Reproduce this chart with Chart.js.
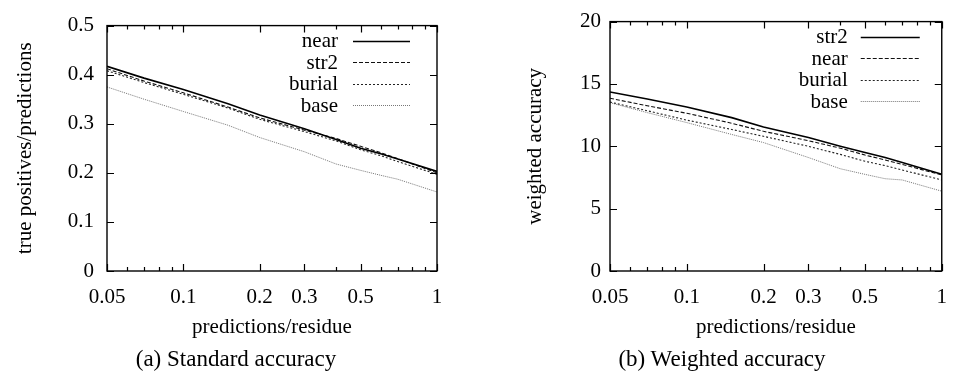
<!DOCTYPE html>
<html>
<head>
<meta charset="utf-8">
<script src="https://cdn.jsdelivr.net/npm/chart.js@4.4.1/dist/chart.umd.min.js"></script>
<style>
  html, body { margin: 0; padding: 0; background: #fff; }
  body { width: 961px; height: 383px; position: relative; overflow: hidden; }
  .pane { position: absolute; top: 0; height: 383px; }
  .cap { position: absolute; font-family: "Liberation Serif", serif; font-size: 23px; color: #000; white-space: nowrap; transform: translateX(-50%); }
</style>
</head>
<body>
<div class="pane" id="p1" style="left:0;width:480px;"><canvas id="c1"></canvas></div>
<div class="pane" id="p2" style="left:480px;width:481px;"><canvas id="c2"></canvas></div>
<div class="cap" style="left:236px;top:346px;">(a) Standard accuracy</div>
<div class="cap" style="left:722px;top:346px;">(b) Weighted accuracy</div>
<script>
// ---- data ----
const xValues = [0.05, 0.07, 0.1, 0.15, 0.2, 0.3, 0.4, 0.5, 0.6, 0.7, 1];
const xTickValues = [0.05, 0.1, 0.2, 0.3, 0.5, 1];
const xTickLabels = ['0.05', '0.1', '0.2', '0.3', '0.5', '1'];
const xMinorTicks = [0.06, 0.07, 0.08, 0.09, 0.4, 0.6, 0.7, 0.8, 0.9];

// (a) standard accuracy
const stdNear   = [0.417, 0.393, 0.370, 0.341, 0.318, 0.290, 0.268, 0.250, 0.239, 0.228, 0.203];
const stdStr2   = [0.412, 0.387, 0.363, 0.334, 0.312, 0.287, 0.270, 0.254, 0.241, 0.229, 0.200];
const stdBurial = [0.408, 0.384, 0.360, 0.332, 0.309, 0.284, 0.265, 0.247, 0.235, 0.223, 0.197];
const stdBase   = [0.375, 0.350, 0.325, 0.297, 0.272, 0.243, 0.218, 0.205, 0.195, 0.187, 0.161];
const stdYTicks = [0, 0.1, 0.2, 0.3, 0.4, 0.5];

// (b) weighted accuracy
const wStr2   = [14.35, 13.80, 13.15, 12.30, 11.55, 10.70, 10.00, 9.50, 9.10, 8.70, 7.75];
const wNear   = [13.85, 13.25, 12.65, 11.85, 11.20, 10.45, 9.85, 9.30, 8.90, 8.55, 7.70];
const wBurial = [13.55, 12.85, 12.10, 11.35, 10.80, 10.00, 9.35, 8.80, 8.45, 8.10, 7.30];
const wBase   = [13.50, 12.70, 11.90, 10.95, 10.30, 9.10, 8.20, 7.75, 7.40, 7.30, 6.40];
const wYTicks = [0, 5, 10, 15, 20];

// ---- styles ----
const FONT = '"Liberation Serif", "Times New Roman", serif';
const STY = {
  solid:  { borderColor: '#000', borderWidth: 1.6, borderDash: [] },
  dashed: { borderColor: '#111', borderWidth: 1.1, borderDash: [4, 2] },
  dotted: { borderColor: '#222', borderWidth: 1.1, borderDash: [2, 2] },
  fine:   { borderColor: '#777', borderWidth: 1.0, borderDash: [1, 1] }
};

function ds(label, vals, sty) {
  return Object.assign({
    label: label,
    data: xValues.map((x, i) => ({ x: x, y: vals[i] })),
    pointRadius: 0, tension: 0, fill: false
  }, sty);
}

const framePlugin = {
  id: 'frame',
  afterDraw(chart, args, opts) {
    const { ctx, chartArea: a, scales } = chart;
    const xs = scales.x, ys = scales.y;
    ctx.save();
    ctx.strokeStyle = '#000';
    ctx.lineWidth = 1.2;
    ctx.setLineDash([]);
    ctx.beginPath();
    const tick = (x1, y1, x2, y2) => { ctx.moveTo(x1, y1); ctx.lineTo(x2, y2); };
    xTickValues.forEach(v => {
      const px = Math.round(xs.getPixelForValue(v)) + 0.5;
      tick(px, a.bottom, px, a.bottom - 7);
      tick(px, a.top, px, a.top + 7);
    });
    xMinorTicks.forEach(v => {
      const px = Math.round(xs.getPixelForValue(v)) + 0.5;
      tick(px, a.bottom, px, a.bottom - 4);
      tick(px, a.top, px, a.top + 4);
    });
    opts.yTicks.forEach(v => {
      const py = Math.round(ys.getPixelForValue(v)) + 0.5;
      tick(a.left, py, a.left + 7, py);
      tick(a.right, py, a.right - 7, py);
    });
    ctx.stroke();
    ctx.lineWidth = 1.4;
    ctx.strokeRect(a.left, a.top, a.right - a.left, a.bottom - a.top);
    // legend
    ctx.font = '21px ' + FONT;
    ctx.fillStyle = '#000';
    ctx.textAlign = 'right';
    ctx.textBaseline = 'middle';
    chart.data.datasets.forEach((d, i) => {
      const y = a.top + opts.legTop + i * 21.6;
      ctx.fillText(d.label, a.right - opts.textOff, y + 1);
      ctx.strokeStyle = d.borderColor;
      ctx.lineWidth = d.borderWidth;
      ctx.setLineDash(d.borderDash || []);
      ctx.beginPath();
      ctx.moveTo(a.right - opts.s1, Math.round(y) + 0.5);
      ctx.lineTo(a.right - opts.s2, Math.round(y) + 0.5);
      ctx.stroke();
    });
    ctx.restore();
  }
};

function makeChart(id, datasets, yMax, yStep, yTicks, yTitle, cfg) {
  return new Chart(document.getElementById(id), {
    type: 'line',
    data: { datasets: datasets },
    options: {
      responsive: true, maintainAspectRatio: false, animation: false,
      layout: { padding: { left: 0, right: cfg.padRight, top: 18, bottom: 43 } },
      plugins: { legend: { display: false }, tooltip: { enabled: false },
                 frame: { yTicks: yTicks, legTop: cfg.legTop, textOff: cfg.textOff, s1: cfg.s1, s2: cfg.s2 } },
      scales: {
        x: {
          type: 'logarithmic', min: 0.05, max: 1,
          grid: { display: false, drawTicks: false }, border: { display: false },
          afterBuildTicks: s => { s.ticks = xTickValues.map(v => ({ value: v, major: true })); },
          afterFit: s => { s.height = 69; },
          ticks: { autoSkip: false, maxRotation: 0, padding: 14, color: '#000',
                   font: { family: FONT, size: 21 },
                   callback: (v) => { const i = xTickValues.indexOf(v); return i >= 0 ? xTickLabels[i] : ''; } },
          title: { display: true, text: 'predictions/residue', color: '#000',
                   font: { family: FONT, size: 21 }, padding: { top: 0, bottom: 0 } }
        },
        y: {
          min: 0, max: yMax,
          grid: { display: false, drawTicks: false }, border: { display: false },
          afterBuildTicks: s => { s.ticks = yTicks.map(v => ({ value: v })); },
          afterFit: s => { s.width = cfg.yWidth; },
          ticks: { padding: cfg.tickPad, color: '#000', font: { family: FONT, size: 21 } },
          title: { display: true, text: yTitle, color: '#000',
                   font: { family: FONT, size: 21 }, padding: { top: cfg.titlePad, bottom: 0 } }
        }
      }
    },
    plugins: [framePlugin]
  });
}

makeChart('c1', [
  ds('near', stdNear, STY.solid),
  ds('str2', stdStr2, STY.dashed),
  ds('burial', stdBurial, STY.dotted),
  ds('base', stdBase, STY.fine)
], 0.5, 0.1, stdYTicks, 'true positives/predictions',
  { padRight: 43, yWidth: 107, tickPad: 13, titlePad: 13, legTop: 15, textOff: 99, s1: 84, s2: 27 });

makeChart('c2', [
  ds('str2', wStr2, STY.solid),
  ds('near', wNear, STY.dashed),
  ds('burial', wBurial, STY.dotted),
  ds('base', wBase, STY.fine)
], 20, 5, wYTicks, 'weighted accuracy',
  { padRight: 12, yWidth: 130, tickPad: 9, titlePad: 43, legTop: 15, textOff: 94, s1: 81, s2: 22 });
</script>
</body>
</html>
